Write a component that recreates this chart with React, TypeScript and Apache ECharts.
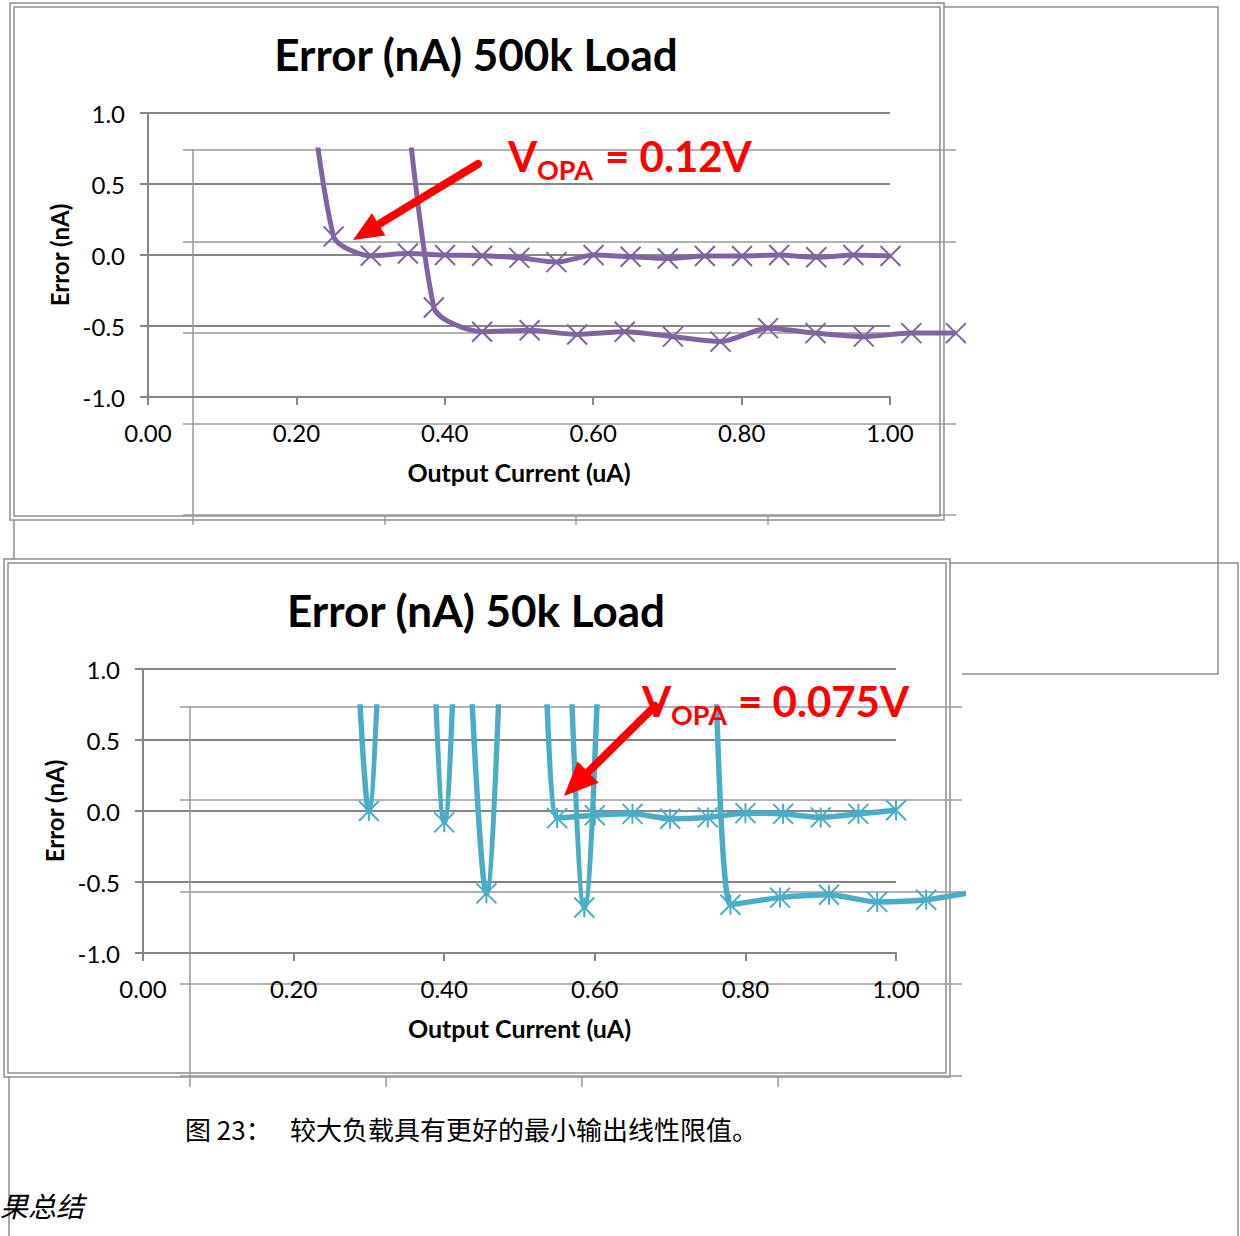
import React, { useEffect, useRef } from "react";
import * as echarts from "echarts";

// ---- 500k load: output current (uA) vs error (nA) ----
const cur500kA = [0.2, 0.25, 0.3, 0.35, 0.4, 0.45, 0.5, 0.55, 0.6, 0.65, 0.7, 0.75, 0.8, 0.85, 0.9, 0.95, 1.0];
const err500kA = [2.0, 0.13, -0.005, 0.01, 0.0, -0.005, -0.02, -0.05, 0.0, -0.012, -0.025, -0.007, -0.007, 0.0, -0.016, 0.0, -0.007];

const cur500kB = [0.321, 0.385, 0.45, 0.514, 0.578, 0.642, 0.707, 0.771, 0.835, 0.899, 0.964, 1.028, 1.088];
const err500kB = [2.6, -0.37, -0.54, -0.53, -0.56, -0.54, -0.575, -0.61, -0.515, -0.55, -0.575, -0.55, -0.55];

// ---- 50k load ----
const cur50kA = [0.25, 0.3, 0.35, 0.4, 0.45, 0.5, 0.55, 0.6, 0.65, 0.7, 0.75, 0.8, 0.85, 0.9, 0.95, 1.0];
const err50kA = [5.6, 0.0, 5.6, -0.08, 5.8, 6.2, -0.05, -0.03, -0.02, -0.055, -0.045, -0.015, -0.02, -0.045, -0.02, 0.005];

const cur50kB = [0.391, 0.456, 0.521, 0.586, 0.65, 0.715, 0.78, 0.846, 0.911, 0.975, 1.04, 1.105];
const err50kB = [6.7, -0.58, 6.9, -0.68, 7.5, 10.0, -0.66, -0.61, -0.59, -0.64, -0.625, -0.57];

// axis scales
const xRange = [0, 1];
const xStep = 0.2;
const yRange = [-1, 1];
const yStep = 0.5;

const titles = ["Error (nA) 500k Load", "Error (nA) 50k Load"];
const xName = "Output Current (uA)";
const yName = "Error (nA)";
const vopaValues = ["0.12V", "0.075V"];
const caption = "较大负载具有更好的最小输出线性限值。";
const captionLabel = "图 23：";
const sectionText = "果总结";

const FONT = 'Lato, "Open Sans", "Liberation Sans", sans-serif';
const CJK = '"Noto Sans CJK SC", sans-serif';
const GRID = "#868686";
const GHOST = "#9a9a9a";
const FRAME = "#8e8e8e";
const PURPLE = "#8064A2";
const TEAL = "#4BACC6";
const RED = "#FF0000";

const CROSS = "path://M0,0L10,10M10,0L0,10";
const STAR = "path://M0,0L10,10M10,0L0,10M5,0L5,10";

function mainAxes(gridIndex: number) {
  const x = {
    gridIndex,
    type: "value",
    min: xRange[0],
    max: xRange[1],
    interval: xStep,
    axisLine: { show: true, onZero: false, lineStyle: { color: GRID, width: 2 } },
    axisTick: { show: true, length: 8, lineStyle: { color: GRID, width: 2 } },
    axisLabel: { formatter: (v: number) => v.toFixed(2), fontFamily: FONT, fontSize: 24, color: "#000", margin: 23 },
    splitLine: { show: false },
    name: xName,
    nameLocation: "middle",
    nameGap: 62,
    nameTextStyle: { fontFamily: FONT, fontSize: 25, fontWeight: "bold", color: "#000" },
  };
  const y = {
    gridIndex,
    type: "value",
    min: yRange[0],
    max: yRange[1],
    interval: yStep,
    axisLine: { show: true, onZero: false, lineStyle: { color: GRID, width: 2 } },
    axisTick: { show: true, length: 8, lineStyle: { color: GRID, width: 2 } },
    axisLabel: { formatter: (v: number) => v.toFixed(1), fontFamily: FONT, fontSize: 24, color: "#000", margin: 23 },
    splitLine: { show: true, lineStyle: { color: GRID, width: 2 } },
    name: yName,
    nameLocation: "middle",
    nameGap: 74,
    nameTextStyle: { fontFamily: FONT, fontSize: 24, fontWeight: "bold", color: "#000" },
  };
  return { x, y };
}

// offset duplicate frame of gridlines
function ghostAxes(gridIndex: number, xMax: number, tickLen: number) {
  const x = {
    gridIndex,
    type: "value",
    min: 0,
    max: xMax,
    interval: 1,
    axisLine: { show: false },
    axisLabel: { show: false },
    splitLine: { show: false },
    axisTick: { show: true, length: tickLen, customValues: [0, 1, 2, 3], lineStyle: { color: GHOST, width: 1.5 } },
  };
  const y = {
    gridIndex,
    type: "value",
    min: 0,
    max: 4,
    interval: 1,
    axisLine: { show: true, onZero: false, lineStyle: { color: GHOST, width: 1.5 } },
    axisTick: { show: true, length: 10, lineStyle: { color: GHOST, width: 1.5 } },
    axisLabel: { show: false },
    splitLine: { show: true, lineStyle: { color: GHOST, width: 1.5 } },
  };
  return { x, y };
}

function plotAxes(gridIndex: number, xMax: number, yMax: number) {
  return {
    x: { gridIndex, type: "value", min: 0, max: xMax, show: false },
    y: { gridIndex, type: "value", min: yRange[0], max: yMax, show: false },
  };
}

function lineSeries(axisIndex: number, xs: number[], ys: number[], color: string, symbol: string, width: number) {
  return {
    type: "line",
    xAxisIndex: axisIndex,
    yAxisIndex: axisIndex,
    data: xs.map((x, i) => [x, ys[i]]),
    smooth: 0.25,
    clip: true,
    showAllSymbol: true,
    symbol,
    symbolSize: 20,
    itemStyle: { color, borderColor: color, borderWidth: 2 },
    lineStyle: { color, width },
    silent: true,
    emphasis: { disabled: true },
    z: 3,
  };
}

function frameRect(x: number, y: number, w: number, h: number) {
  return { type: "rect", shape: { x, y, width: w, height: h }, style: { fill: "none", stroke: FRAME, lineWidth: 1.5 }, z: 0, silent: true };
}
function seg(points: number[][]) {
  return { type: "polyline", shape: { points }, style: { fill: "none", stroke: FRAME, lineWidth: 1.5 }, z: 0, silent: true };
}

function arrow(tail: number[], tip: number[], headLen: number, headHalf: number) {
  const dx = tip[0] - tail[0];
  const dy = tip[1] - tail[1];
  const len = Math.hypot(dx, dy);
  const ux = dx / len;
  const uy = dy / len;
  const bx = tip[0] - ux * headLen;
  const by = tip[1] - uy * headLen;
  const nx = -uy;
  const ny = ux;
  return [
    {
      type: "line",
      shape: { x1: tail[0], y1: tail[1], x2: bx + ux * 2, y2: by + uy * 2 },
      style: { stroke: RED, lineWidth: 8, lineCap: "round" },
      z: 50,
      silent: true,
    },
    {
      type: "polygon",
      shape: { points: [tip, [bx + nx * headHalf, by + ny * headHalf], [bx - nx * headHalf, by - ny * headHalf]] },
      style: { fill: RED },
      z: 50,
      silent: true,
    },
  ];
}

function vopaLabel(xV: number, yMid: number, value: string, eqOffset: number) {
  return [
    { type: "text", x: xV, y: yMid, style: { text: "V", font: `bold 42px ${FONT}`, fill: RED, verticalAlign: "middle" }, z: 60, silent: true },
    { type: "text", x: xV + 29, y: yMid + 13, style: { text: "OPA", font: `bold 27px ${FONT}`, fill: RED, verticalAlign: "middle" }, z: 60, silent: true },
    { type: "text", x: xV + eqOffset, y: yMid, style: { text: "= " + value, font: `bold 42px ${FONT}`, fill: RED, verticalAlign: "middle" }, z: 60, silent: true },
  ];
}

export default function App() {
  const ref = useRef<HTMLDivElement>(null);

  useEffect(() => {
    if (!ref.current) return;
    const chart = echarts.init(ref.current, null, { renderer: "svg" });

    const m1 = mainAxes(0);
    const g1 = ghostAxes(1, 3.984, 10);
    const p1 = plotAxes(2, 1.0882, 0.7394);
    const m2 = mainAxes(3);
    const g2 = ghostAxes(4, 3.939, 11);
    const p2 = plotAxes(5, 1.0876, 0.7324);

    const option = {
      animation: false,
      backgroundColor: "#fff",
      grid: [
        { left: 148, top: 113, width: 742, height: 284 },
        { left: 193, top: 150, width: 763, height: 365 },
        { left: 148, top: 150, width: 808, height: 247 },
        { left: 143, top: 669, width: 753, height: 284 },
        { left: 190, top: 707, width: 772, height: 369 },
        { left: 143, top: 707, width: 819, height: 246 },
      ],
      xAxis: [m1.x, g1.x, p1.x, m2.x, g2.x, p2.x],
      yAxis: [m1.y, g1.y, p1.y, m2.y, g2.y, p2.y],
      series: [
        lineSeries(2, cur500kA, err500kA, PURPLE, CROSS, 5),
        lineSeries(2, cur500kB, err500kB, PURPLE, CROSS, 5),
        lineSeries(5, cur50kA, err50kA, TEAL, STAR, 5.5),
        lineSeries(5, cur50kB, err50kB, TEAL, STAR, 5.5),
      ],
      graphic: [
        // panel frames
        frameRect(10, 3, 934, 517),
        frameRect(14, 7, 926, 509),
        frameRect(4, 559, 946, 518),
        frameRect(8, 563, 938, 510),
        seg([[944, 7], [1218, 7], [1218, 674], [962, 674]]),
        seg([[950, 563], [1238, 563], [1238, 1236]]),
        seg([[14, 520], [14, 559]]),
        seg([[9, 1077], [9, 1236]]),
        // titles
        { type: "text", x: 476, y: 54, style: { text: titles[0], font: `bold 44px ${FONT}`, fill: "#000", align: "center", verticalAlign: "middle" }, z: 10, silent: true },
        { type: "text", x: 476, y: 610, style: { text: titles[1], font: `bold 44px ${FONT}`, fill: "#000", align: "center", verticalAlign: "middle" }, z: 10, silent: true },
        // annotations
        ...arrow([478, 164], [353, 240], 30, 13),
        ...vopaLabel(508, 156, vopaValues[0], 97),
        ...arrow([655, 706], [564, 796], 34, 15),
        ...vopaLabel(642, 701, vopaValues[1], 96),
        // caption
        { type: "text", x: 185, y: 1128, style: { text: captionLabel, font: `26px ${CJK}`, fill: "#000", verticalAlign: "middle" }, z: 10, silent: true },
        { type: "text", x: 290, y: 1128, style: { text: caption, font: `26px ${CJK}`, fill: "#000", verticalAlign: "middle" }, z: 10, silent: true },
        { type: "text", x: 0, y: 1205, style: { text: sectionText, font: `italic 28px ${CJK}`, fill: "#000", verticalAlign: "middle" }, z: 10, silent: true },
      ],
    };

    chart.setOption(option as any);
    return () => chart.dispose();
  }, []);

  return (
    <div
      ref={ref}
      style={{ position: "fixed", left: 0, top: 0, width: 1240, height: 1236, background: "#fff" }}
    />
  );
}
